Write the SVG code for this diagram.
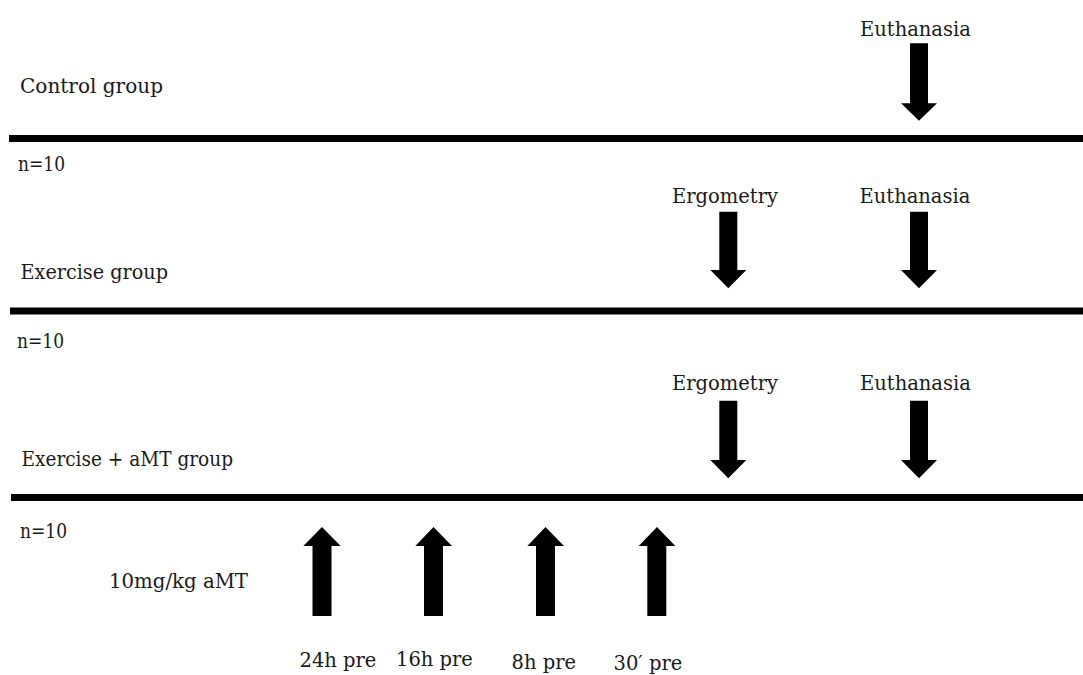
<svg xmlns="http://www.w3.org/2000/svg" width="1083" height="675" viewBox="0 0 1083 675">
<style>
text{font-family:"DejaVu Serif","Liberation Serif",serif;font-size:19.5px;fill:#1a1a1a}
.tl{stroke:#000;stroke-width:7}
.arr{fill:#000}
</style>
<rect width="1083" height="675" fill="#fff"/>
<g id="timelines">
<line class="tl" x1="9" y1="138.5" x2="1083" y2="138.5"/>
<line class="tl" x1="10" y1="311" x2="1083" y2="311"/>
<line class="tl" x1="11" y1="497.5" x2="1083" y2="497.5"/>
</g>
<g id="control-group">
<text x="20" y="93" textLength="143" lengthAdjust="spacingAndGlyphs">Control group</text>
<text x="18" y="171" textLength="47" lengthAdjust="spacingAndGlyphs">n=10</text>
</g>
<g id="exercise-group">
<text x="20.5" y="279" textLength="147.5" lengthAdjust="spacingAndGlyphs">Exercise group</text>
<text x="17" y="348" textLength="47" lengthAdjust="spacingAndGlyphs">n=10</text>
</g>
<g id="exercise-amt-group">
<text x="21.5" y="466" textLength="211.5" lengthAdjust="spacingAndGlyphs">Exercise + aMT group</text>
<text x="20" y="538" textLength="47" lengthAdjust="spacingAndGlyphs">n=10</text>
<text x="109" y="588" textLength="139" lengthAdjust="spacingAndGlyphs">10mg/kg aMT</text>
</g>
<g id="labels">
<text x="860" y="36">Euthanasia</text>
<text x="672" y="203">Ergometry</text>
<text x="859.5" y="203">Euthanasia</text>
<text x="672" y="390">Ergometry</text>
<text x="860" y="390">Euthanasia</text>
<text x="299.5" y="666.5">24h pre</text>
<text x="396" y="665.5">16h pre</text>
<text x="511.5" y="668.5">8h pre</text>
<text x="613.5" y="670">30′ pre</text>
</g>
<g id="connectors">
<path class="arr" d="M910 43.3H928V103.3H937L919 120.7L901 103.3H910Z"/>
<path class="arr" d="M719.3 211.7H737.3V270H746.3L728.3 288.3L710.3 270H719.3Z"/>
<path class="arr" d="M910 211.7H928V270H937L919 288.3L901 270H910Z"/>
<path class="arr" d="M719.3 400.7H737.3V460H746.3L728.3 478.3L710.3 460H719.3Z"/>
<path class="arr" d="M910 400.7H928V460H937L919 478.3L901 460H910Z"/>
<path class="arr" d="M312.5 616V546H303.3L322 527L340.7 546H331.5V616Z"/>
<path class="arr" d="M424 616V546H415.3L433.5 527L452 546H443V616Z"/>
<path class="arr" d="M536 616V546H527.3L545.5 527L564 546H555V616Z"/>
<path class="arr" d="M647.3 616V546H638.7L657 527L675.3 546H666.3V616Z"/>
</g>
</svg>
